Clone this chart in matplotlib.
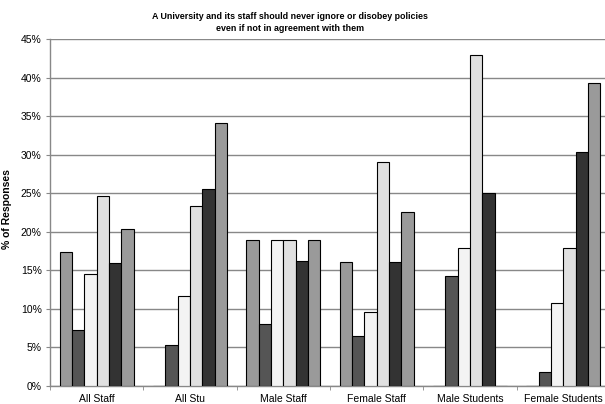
import matplotlib.pyplot as plt
import matplotlib as mp
import numpy as np

mp.rcParams.update({'font.size': 7.5, 'font.family': ['Liberation Sans', 'DejaVu Sans']})

groups = ['All Staff', 'All Stu', 'Male Staff', 'Female Staff', 'Male Students', 'Female Students']

# six answer categories per group (left to right in each cluster)
s1 = [17.4, 0.0, 18.95, 16.1, 0.0, 0.0]
s2 = [7.25, 5.3, 8.1, 6.5, 14.3, 1.85]
s3 = [14.5, 11.7, 18.95, 9.65, 17.9, 10.7]
s4 = [24.7, 23.4, 18.95, 29.1, 42.9, 17.9]
s5 = [16.0, 25.6, 16.2, 16.1, 25.05, 30.4]
s6 = [20.3, 34.1, 18.95, 22.6, 0.0, 39.3]

series = [s1, s2, s3, s4, s5, s6]
colours = ['#9a9a9a', '#555555', '#f3f3f3', '#e0e0e0', '#333333', '#9a9a9a']

yticks = [0, 5, 10, 15, 20, 25, 30, 35, 40, 45]

fig = plt.figure(figsize=(6.05, 4.04), dpi=100, facecolor='w')
ax = fig.add_axes([50 / 605, 18 / 404, 560 / 605, 347 / 404])

x = np.arange(len(groups))
bar_w = 0.132
for i, (vals, c) in enumerate(zip(series, colours)):
    ax.bar(x + (i - 2.5) * bar_w, vals, width=bar_w, color=c, edgecolor='black',
           linewidth=0.8, zorder=3)

# Axes #
ax.set_xlim(-0.5, len(groups) - 0.5)
ax.set_ylim(0, 45)
ax.set_yticks(yticks)
ax.set_yticklabels([str(t) + '%' for t in yticks])
ax.set_xticks(x)
ax.set_xticklabels(groups)
ax.set_xticks(np.arange(len(groups) + 1) - 0.5, minor=True)
ax.tick_params(axis='x', which='major', length=0, pad=6)
ax.tick_params(axis='x', which='minor', length=3, color='#888888')
ax.tick_params(axis='y', length=3, color='#888888', pad=3)
ax.yaxis.grid(True, color='#888888', linewidth=1.0, zorder=0)

for side in ['top', 'right']:
    ax.spines[side].set_visible(False)
for side in ['left', 'bottom']:
    ax.spines[side].set_color('#888888')
    ax.spines[side].set_linewidth(1.0)

ax.set_ylabel('% of Responses', fontweight='bold', fontsize=7.5)
ax.yaxis.set_label_coords(-0.068, 0.51)

fig.text(290 / 605, 1 - 22.5 / 404,
         'A University and its staff should never ignore or disobey policies\neven if not in agreement with them',
         ha='center', va='center', fontweight='bold', fontsize=6.4, linespacing=1.55)

plt.savefig('out.png', dpi=100)
plt.close()
